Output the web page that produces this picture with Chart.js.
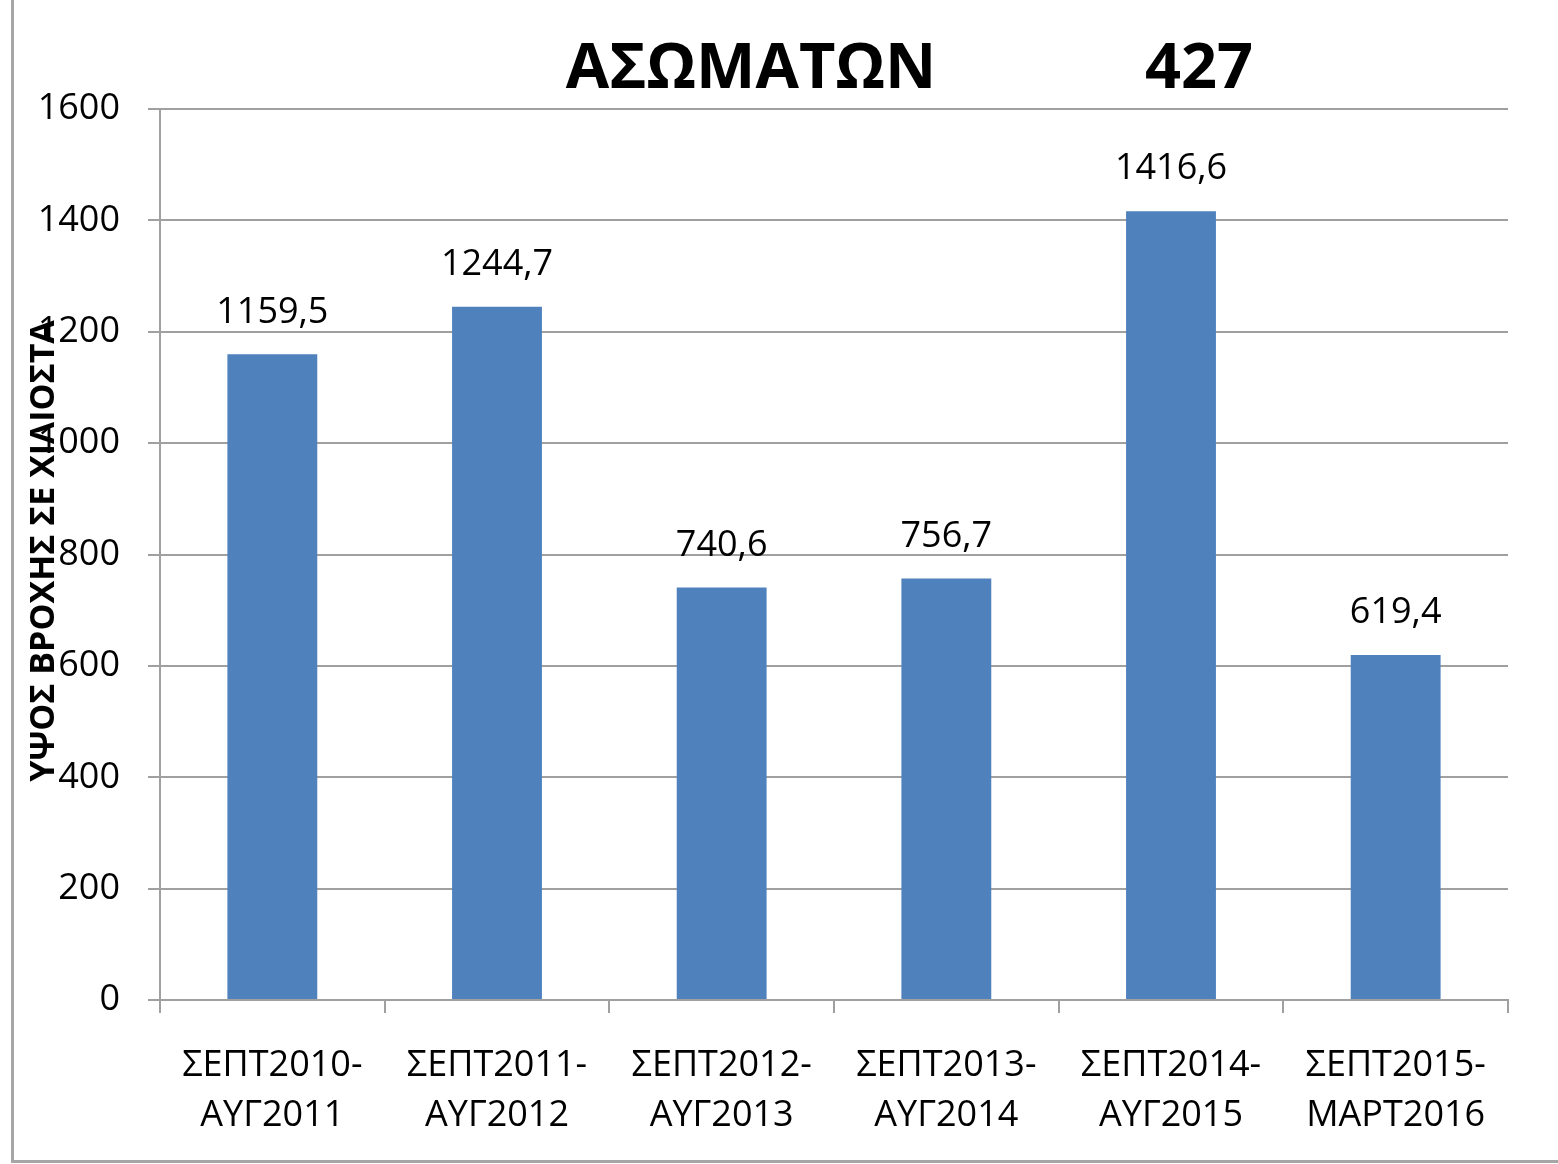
<!DOCTYPE html>
<html>
<head>
<meta charset="utf-8">
<script src="https://cdn.jsdelivr.net/npm/chart.js@4.4.1/dist/chart.umd.min.js"></script>
<style>
  html, body { margin: 0; padding: 0; background: #fff; }
  canvas { display: block; }
</style>
</head>
<body>
<canvas id="c" width="1558" height="1164"></canvas>
<script>
const categories = [
  ["ΣΕΠΤ2010-", "ΑΥΓ2011"],
  ["ΣΕΠΤ2011-", "ΑΥΓ2012"],
  ["ΣΕΠΤ2012-", "ΑΥΓ2013"],
  ["ΣΕΠΤ2013-", "ΑΥΓ2014"],
  ["ΣΕΠΤ2014-", "ΑΥΓ2015"],
  ["ΣΕΠΤ2015-", "ΜΑΡΤ2016"]
];
const rainfall = [1159.5, 1244.7, 740.6, 756.7, 1416.6, 619.4];
const yTicks = [0, 200, 400, 600, 800, 1000, 1200, 1400, 1600];
const titleMain = "ΑΣΩΜΑΤΩΝ";
const titleCode = "427";
const yTitle = "ΥΨΟΣ ΒΡΟΧΗΣ ΣΕ ΧΙΛΙΟΣΤΑ";

const FONT = "'Open Sans', 'Noto Sans', sans-serif";
const GRID = "#A0A0A0";

const decorPlugin = {
  id: 'decor',
  beforeDraw(chart) {
    const ctx = chart.ctx;
    ctx.save();
    ctx.strokeStyle = "#A6A6A6";
    ctx.lineWidth = 3;
    ctx.beginPath();
    ctx.moveTo(12.5, 0);
    ctx.lineTo(12.5, 1161.5);
    ctx.lineTo(chart.width, 1161.5);
    ctx.stroke();
    ctx.restore();
  },
  afterDraw(chart) {
    const ctx = chart.ctx;
    ctx.save();
    ctx.fillStyle = "#000";
    ctx.textBaseline = "middle";
    ctx.textAlign = "center";
    ctx.font = "bold 63px " + FONT;
    ctx.fillText(titleMain, 751, 70);
    ctx.fillText(titleCode, 1199, 70);
    // y axis title
    ctx.font = "bold 34px " + FONT;
    ctx.translate(44, 551);
    ctx.rotate(-Math.PI / 2);
    ctx.fillText(yTitle, 0, 0);
    ctx.restore();
  },
  afterDatasetsDraw(chart) {
    const ctx = chart.ctx;
    const meta = chart.getDatasetMeta(0);
    ctx.save();
    ctx.fillStyle = "#000";
    ctx.font = "36px " + FONT;
    ctx.textAlign = "center";
    ctx.textBaseline = "middle";
    meta.data.forEach((bar, i) => {
      const label = rainfall[i].toFixed(1).replace('.', ',');
      ctx.fillText(label, bar.x, bar.y - 42);
    });
    ctx.restore();
  }
};

new Chart(document.getElementById('c'), {
  type: 'bar',
  data: {
    labels: categories,
    datasets: [{
      data: rainfall,
      backgroundColor: '#4F81BD',
      borderWidth: 0,
      categoryPercentage: 1.0,
      barPercentage: 0.4
    }]
  },
  options: {
    responsive: false,
    animation: false,
    devicePixelRatio: 1,
    layout: { padding: { top: 109, right: 50, left: 0, bottom: 0 } },
    plugins: {
      legend: { display: false },
      title: { display: false },
      tooltip: { enabled: false }
    },
    scales: {
      x: {
        offset: true,
        grid: {
          display: true,
          drawOnChartArea: false,
          offset: true,
          color: GRID,
          lineWidth: 2,
          tickLength: 13
        },
        border: { display: true, color: GRID, width: 2 },
        ticks: {
          color: '#000',
          font: { family: FONT, size: 36, lineHeight: 1.39 },
          padding: 28,
          maxRotation: 0,
          autoSkip: false
        },
        afterFit(scale) { scale.height = 164; }
      },
      y: {
        min: 0,
        max: 1600,
        afterBuildTicks(scale) { scale.ticks = yTicks.map(v => ({ value: v })); },
        grid: {
          color: GRID,
          lineWidth: 2,
          tickLength: 12
        },
        border: { display: true, color: GRID, width: 2 },
        ticks: {
          color: '#000',
          font: { family: FONT, size: 36 },
          padding: 28,
          callback: (v) => String(v)
        },
        afterFit(scale) { scale.width = 160; }
      }
    }
  },
  plugins: [decorPlugin]
});
</script>
</body>
</html>
